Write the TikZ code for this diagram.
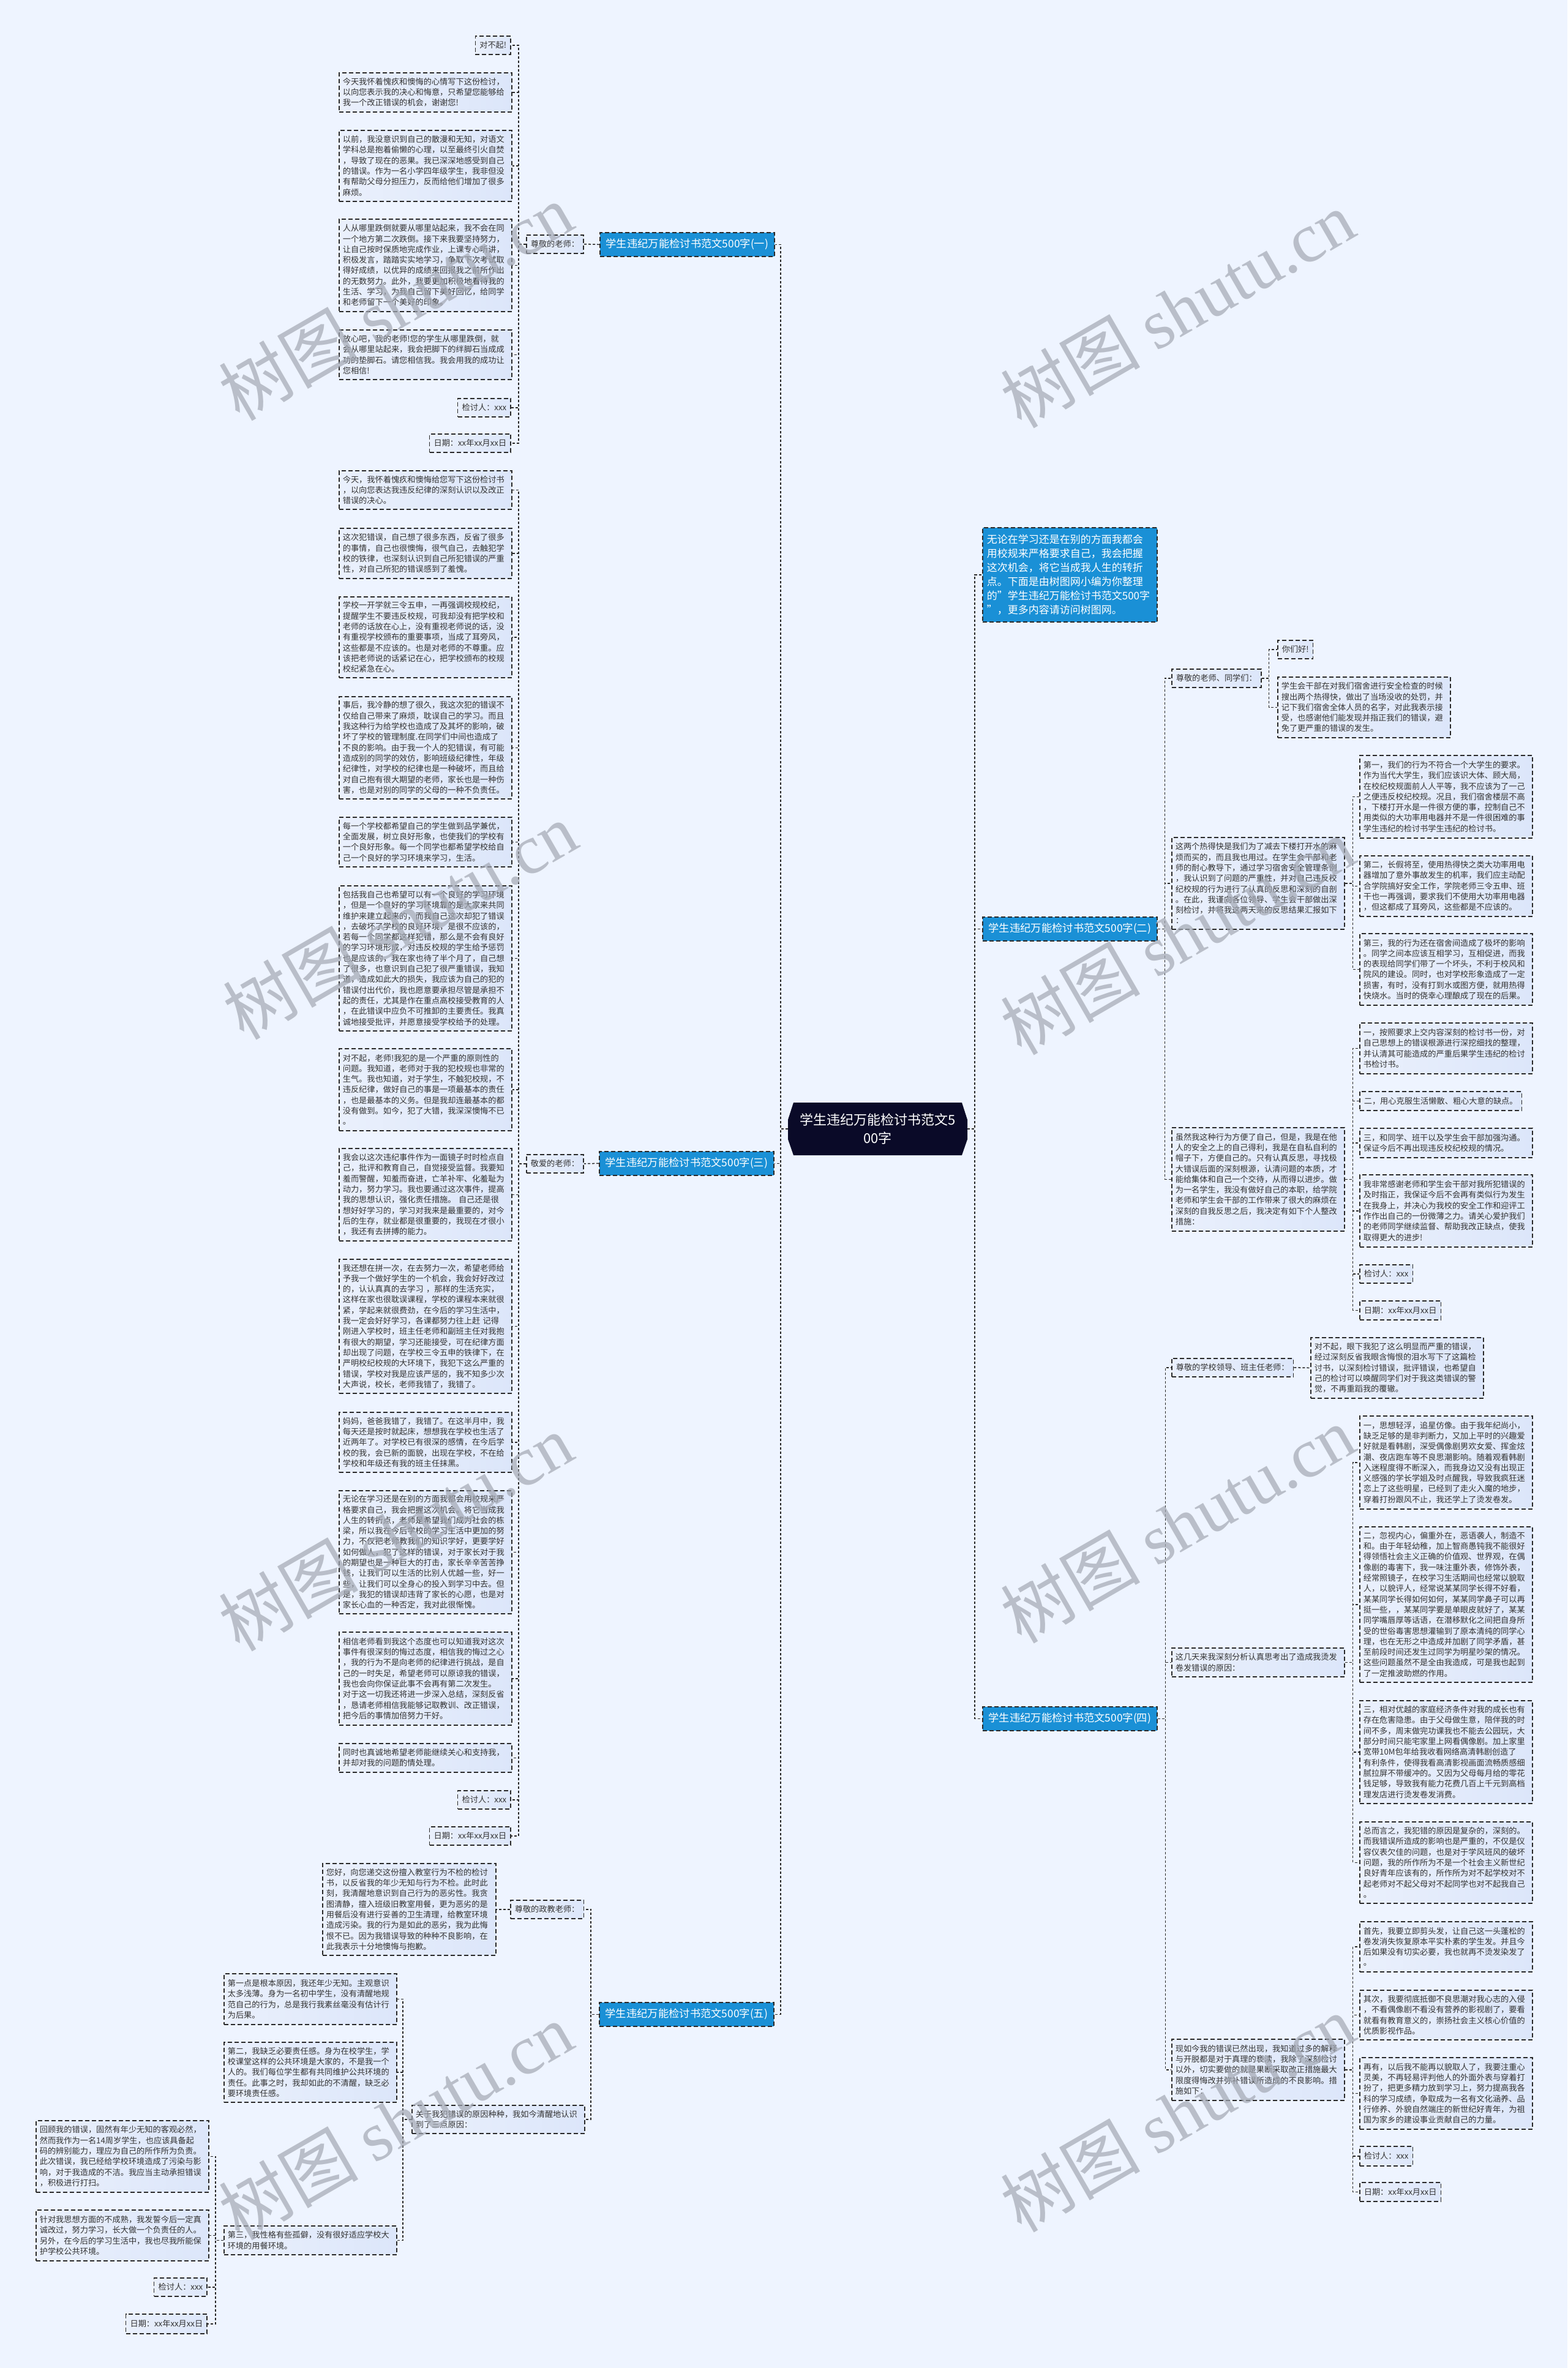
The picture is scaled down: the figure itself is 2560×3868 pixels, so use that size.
\documentclass[tikz,border=0pt]{standalone}
\usepackage{fontspec}
\setmainfont{Noto Sans CJK SC}
\newfontfamily\wmlat{Liberation Serif}
\definecolor{bg}{HTML}{EEF4FF}
\definecolor{nodeL}{HTML}{EAF0FC}
\definecolor{nodeR}{HTML}{DCE6FA}
\definecolor{bluefill}{HTML}{1A90D6}
\definecolor{navy}{HTML}{0A0A28}
\definecolor{txt}{HTML}{333333}
\definecolor{edge}{HTML}{2A2A2A}
\definecolor{wmgray}{HTML}{A3A8B3}
\begin{document}
\begin{tikzpicture}[x=1pt,y=-1pt,
  brd/.style={draw=edge, line width=1.6pt, dash pattern=on 7pt off 4pt},
  blk/.style={brd, left color=nodeL, right color=nodeR, text=txt, font=\fontsize{13.2pt}{17.3pt}\selectfont, text width=270pt, align=left, inner xsep=6pt, inner ysep=3pt, anchor=north west},
  lbl/.style={brd, left color=nodeL, right color=nodeR, text=txt, font=\fontsize{13.2pt}{17.3pt}\selectfont, inner xsep=7pt, inner ysep=3pt, minimum height=30pt},
  br/.style={brd, fill=bluefill, text=white, font=\fontsize{17.3pt}{20pt}\selectfont, minimum width=285pt, minimum height=39pt, inner xsep=4pt, anchor=north west},
  intro/.style={brd, fill=bluefill, text=white, font=\fontsize{17pt}{23.1pt}\selectfont, text width=271pt, align=left, inner xsep=7pt, minimum height=154pt, anchor=north west},
  ctr/.style={minimum width=293pt, minimum height=86pt, inner sep=0pt, align=center, text=white, font=\fontsize{22pt}{29.5pt}\selectfont,
    path picture={\fill[navy] ([xshift=9pt]path picture bounding box.north west) -- ([xshift=-9pt]path picture bounding box.north east) -- ([yshift=-28pt]path picture bounding box.north east) -- ([yshift=26pt]path picture bounding box.south east) -- ([xshift=-9pt]path picture bounding box.south east) -- ([xshift=9pt]path picture bounding box.south west) -- ([yshift=26pt]path picture bounding box.south west) -- ([yshift=-28pt]path picture bounding box.north west) -- cycle;}},
  conn/.style={draw=edge, line width=1.5pt, dash pattern=on 4pt off 3pt},
  wm/.style={text=wmgray, opacity=0.7, rotate=30, font=\fontsize{114pt}{114pt}\selectfont, inner sep=0pt}
]
\useasboundingbox (0,0) rectangle (2560,3868);
\fill[bg] (0,0) rectangle (2560,3868);

% ---------- centre ----------
\node[ctr] (ctr) at (1433.5,1844) {学生违纪万能检讨书范文5\\00字};

% ---------- branches ----------
\node[br] (b1) at (979,379) {学生违纪万能检讨书范文500字(一)};
\node[br] (b3) at (978,1880) {学生违纪万能检讨书范文500字(三)};
\node[br] (b5) at (978,3270) {学生违纪万能检讨书范文500字(五)};
\node[intro] (in) at (1604,861) {无论在学习还是在别的方面我都会\\用校规来严格要求自己，我会把握\\这次机会，将它当成我人生的转折\\点。下面是由树图网小编为你整理\\的"学生违纪万能检讨书范文500字\\"，更多内容请访问树图网。};
\node[br] (b2) at (1604,1497) {学生违纪万能检讨书范文500字(二)};
\node[br] (b4) at (1604,2787) {学生违纪万能检讨书范文500字(四)};

% ---------- group (一) ----------
\node[lbl, anchor=north west] (yl) at (859,383) {尊敬的老师：};
\node[lbl, anchor=north east] (y0) at (835,58) {对不起!};
\node[blk, minimum height=64pt] (y1) at (553,118) {今天我怀着愧疚和懊悔的心情写下这份检讨，\\以向您表示我的决心和悔意，只希望您能够给\\我一个改正错误的机会，谢谢您!};
\node[blk, minimum height=116pt] (y2) at (553,212) {以前，我没意识到自己的散漫和无知，对语文\\学科总是抱着偷懒的心理，以至最终引火自焚\\，导致了现在的恶果。我已深深地感受到自己\\的错误。作为一名小学四年级学生，我非但没\\有帮助父母分担压力，反而给他们增加了很多\\麻烦。};
\node[blk, minimum height=151pt] (y3) at (553,357) {人从哪里跌倒就要从哪里站起来，我不会在同\\一个地方第二次跌倒。接下来我要坚持努力，\\让自己按时保质地完成作业，上课专心听讲，\\积极发言，踏踏实实地学习，争取下次考试取\\得好成绩，以优异的成绩来回报我之前所作出\\的无数努力。此外，我要更加积极地看待我的\\生活、学习，为我自己留下美好回忆，给同学\\和老师留下一个美好的印象。};
\node[blk, minimum height=81pt] (y4) at (553,538) {放心吧，我的老师!您的学生从哪里跌倒，就\\会从哪里站起来，我会把脚下的绊脚石当成成\\功的垫脚石。请您相信我。我会用我的成功让\\您相信!};
\node[lbl, anchor=north east] (y5) at (835,650) {检讨人：xxx};
\node[lbl, anchor=north east] (y6) at (835,708) {日期：xx年xx月xx日};

% ---------- group (三) ----------
\node[lbl, anchor=north west] (sl) at (859,1885) {敬爱的老师：};
\node[blk, minimum height=63pt] (s1) at (553,768) {今天，我怀着愧疚和懊悔给您写下这份检讨书\\，以向您表达我违反纪律的深刻认识以及改正\\错误的决心。};
\node[blk, minimum height=82pt] (s2) at (553,862) {这次犯错误，自己想了很多东西，反省了很多\\的事情，自己也很懊悔，很气自己，去触犯学\\校的铁律，也深刻认识到自己所犯错误的严重\\性，对自己所犯的错误感到了羞愧。};
\node[blk, minimum height=132pt] (s3) at (553,974) {学校一开学就三令五申，一再强调校规校纪，\\提醒学生不要违反校规，可我却没有把学校和\\老师的话放在心上，没有重视老师说的话，没\\有重视学校颁布的重要事项，当成了耳旁风，\\这些都是不应该的。也是对老师的不尊重。应\\该把老师说的话紧记在心，把学校颁布的校规\\校纪紧急在心。};
\node[blk, minimum height=167pt] (s4) at (553,1137) {事后，我冷静的想了很久，我这次犯的错误不\\仅给自己带来了麻烦，耽误自己的学习。而且\\我这种行为给学校也造成了及其坏的影响，破\\坏了学校的管理制度.在同学们中间也造成了\\不良的影响。由于我一个人的犯错误，有可能\\造成别的同学的效仿，影响班级纪律性，年级\\纪律性，对学校的纪律也是一种破坏，而且给\\对自己抱有很大期望的老师，家长也是一种伤\\害，也是对别的同学的父母的一种不负责任。};
\node[blk, minimum height=81pt] (s5) at (553,1334) {每一个学校都希望自己的学生做到品学兼优，\\全面发展，树立良好形象，也使我们的学校有\\一个良好形象。每一个同学也都希望学校给自\\己一个良好的学习环境来学习，生活。};
\node[blk, minimum height=237pt] (s6) at (553,1446) {包括我自己也希望可以有一个良好的学习环境\\，但是一个良好的学习环境靠的是大家来共同\\维护来建立起来的，而我自己这次却犯了错误\\，去破坏了学校的良好环境，是很不应该的，\\若每一个同学都这样犯错，那么是不会有良好\\的学习环境形成，对违反校规的学生给予惩罚\\也是应该的，我在家也待了半个月了，自己想\\了很多，也意识到自己犯了很严重错误，我知\\道，造成如此大的损失，我应该为自己的犯的\\错误付出代价，我也愿意要承担尽管是承担不\\起的责任，尤其是作在重点高校接受教育的人\\，在此错误中应负不可推卸的主要责任。我真\\诚地接受批评，并愿意接受学校给予的处理。};
\node[blk, minimum height=134pt] (s7) at (553,1712) {对不起，老师!我犯的是一个严重的原则性的\\问题。我知道，老师对于我的犯校规也非常的\\生气。我也知道，对于学生，不触犯校规，不\\违反纪律，做好自己的事是一项最基本的责任\\，也是最基本的义务。但是我却连最基本的都\\没有做到。如今，犯了大错，我深深懊悔不已\\。};
\node[blk, minimum height=151pt] (s8) at (553,1875) {我会以这次违纪事件作为一面镜子时时检点自\\己，批评和教育自己，自觉接受监督。我要知\\羞而警醒，知羞而奋进，亡羊补牢、化羞耻为\\动力，努力学习。我也要通过这次事件，提高\\我的思想认识，强化责任措施。 自己还是很\\想好好学习的，学习对我来是最重要的，对今\\后的生存，就业都是很重要的，我现在才很小\\，我还有去拼搏的能力。};
\node[blk, minimum height=219pt] (s9) at (553,2056) {我还想在拼一次，在去努力一次，希望老师给\\予我一个做好学生的一个机会，我会好好改过\\的，认认真真的去学习 ，那样的生活充实，\\这样在家也很耽误课程，学校的课程本来就很\\紧，学起来就很费劲，在今后的学习生活中，\\我一定会好好学习，各课都努力往上赶 记得\\刚进入学校时，班主任老师和副班主任对我抱\\有很大的期望，学习还能接受，可在纪律方面\\却出现了问题，在学校三令五申的铁律下，在\\严明校纪校规的大环境下，我犯下这么严重的\\错误，学校对我是应该严惩的，我不知多少次\\大声说，校长，老师我错了，我错了。};
\node[blk, minimum height=98pt] (s10) at (553,2306) {妈妈，爸爸我错了，我错了。在这半月中，我\\每天还是按时就起床，想想我在学校也生活了\\近两年了。对学校已有很深的感情，在今后学\\校的我，会已新的面貌，出现在学校，不在给\\学校和年级还有我的班主任抹黑。};
\node[blk, minimum height=201pt] (s11) at (553,2434) {无论在学习还是在别的方面我都会用校规来严\\格要求自己，我会把握这次机会。将它当成我\\人生的转折点，老师是希望我们成为社会的栋\\梁，所以我在今后学校的学习生活中更加的努\\力，不仅把老师教我们的知识学好，更要学好\\如何做人，犯了这样的错误，对于家长对于我\\的期望也是一种巨大的打击，家长辛辛苦苦挣\\钱，让我们可以生活的比别人优越一些，好一\\些，让我们可以全身心的投入到学习中去。但\\是，我犯的错误却违背了家长的心愿，也是对\\家长心血的一种否定，我对此很惭愧。};
\node[blk, minimum height=152pt] (s12) at (553,2665) {相信老师看到我这个态度也可以知道我对这次\\事件有很深刻的悔过态度，相信我的悔过之心\\，我的行为不是向老师的纪律进行挑战，是自\\己的一时失足，希望老师可以原谅我的错误，\\我也会向你保证此事不会再有第二次发生。\\对于这一切我还将进一步深入总结，深刻反省\\，恳请老师相信我能够记取教训、改正错误，\\把今后的事情加倍努力干好。};
\node[blk, minimum height=47pt] (s13) at (553,2847) {同时也真诚地希望老师能继续关心和支持我，\\并却对我的问题酌情处理。};
\node[lbl, anchor=north east] (s14) at (835,2924) {检讨人：xxx};
\node[lbl, anchor=north east] (s15) at (835,2983) {日期：xx年xx月xx日};

% ---------- group (五) ----------
\node[lbl, anchor=north west] (pl1) at (833,3103) {尊敬的政教老师：};
\node[blk, minimum height=150pt, text width=271pt] (pe1) at (526,3043) {您好，向您递交这份擅入教室行为不检的检讨\\书，以反省我的年少无知与行为不检。此时此\\刻，我清醒地意识到自己行为的恶劣性。我贪\\图清静，擅入班级旧教室用餐，更为恶劣的是\\用餐后没有进行妥善的卫生清理，给教室环境\\造成污染。我的行为是如此的恶劣，我为此悔\\恨不已。因为我错误导致的种种不良影响，在\\此我表示十分地懊悔与抱歉。};
\node[blk, minimum height=46pt] (pl2) at (672,3438) {关于我犯错误的原因种种，我如今清醒地认识\\到了三点原因：};
\node[blk, minimum height=83pt] (pe2) at (365,3223) {第一点是根本原因，我还年少无知。主观意识\\太多浅薄。身为一名初中学生，没有清醒地规\\范自己的行为，总是我行我素丝毫没有估计行\\为后果。};
\node[blk, minimum height=98pt] (pe3) at (365,3335) {第二，我缺乏必要责任感。身为在校学生，学\\校课堂这样的公共环境是大家的，不是我一个\\人的。我们每位学生都有共同维护公共环境的\\责任。此事之时，我却如此的不清醒，缺乏必\\要环境责任感。};
\node[blk, minimum height=47pt] (pe4) at (365,3635) {第三，我性格有些孤僻，没有很好适应学校大\\环境的用餐环境。};
\node[blk, minimum height=117pt] (pe5) at (58,3463) {回顾我的错误，固然有年少无知的客观必然，\\然而我作为一名14周岁学生，也应该具备起\\码的辨别能力，理应为自己的所作所为负责。\\此次错误，我已经给学校环境造成了污染与影\\响，对于我造成的不洁。我应当主动承担错误\\，积极进行打扫。};
\node[blk, minimum height=83pt] (pe6) at (58,3609) {针对我思想方面的不成熟，我发誓今后一定真\\诚改过，努力学习，长大做一个负责任的人。\\另外，在今后的学习生活中，我也尽我所能保\\护学校公共环境。};
\node[lbl, anchor=north east] (pe7) at (339,3720) {检讨人：xxx};
\node[lbl, anchor=north east, minimum height=32pt] (pe8) at (339,3779) {日期：xx年xx月xx日};

% ---------- group (二) ----------
\node[lbl, anchor=north west] (q1) at (1913,1092) {尊敬的老师、同学们：};
\node[lbl, anchor=north west] (q1a) at (2086,1045) {你们好!};
\node[blk, minimum height=99pt] (q1b) at (2086,1105) {学生会干部在对我们宿舍进行安全检查的时候\\搜出两个热得快，做出了当场没收的处罚，并\\记下我们宿舍全体人员的名字，对此我表示接\\受，也感谢他们能发现并指正我们的错误，避\\免了更严重的错误的发生。};
\node[blk, minimum height=150pt] (q2) at (1913,1367) {这两个热得快是我们为了减去下楼打开水的麻\\烦而买的，而且我也用过。在学生会干部和老\\师的耐心教导下，通过学习宿舍安全管理条例\\，我认识到了问题的严重性，并对自己违反校\\纪校规的行为进行了认真的反思和深刻的自剖\\。在此，我谨向各位领导、学生会干部做出深\\刻检讨，并将我这两天来的反思结果汇报如下\\：};
\node[blk, minimum height=135pt] (q2a) at (2220,1233) {第一，我们的行为不符合一个大学生的要求。\\作为当代大学生，我们应该识大体、顾大局，\\在校纪校规面前人人平等，我不应该为了一己\\之便违反校纪校规。况且，我们宿舍楼层不高\\，下楼打开水是一件很方便的事，控制自己不\\用类似的大功率用电器并不是一件很困难的事\\学生违纪的检讨书学生违纪的检讨书。};
\node[blk, minimum height=99pt] (q2b) at (2220,1397) {第二，长假将至，使用热得快之类大功率用电\\器增加了意外事故发生的机率，我们应主动配\\合学院搞好安全工作，学院老师三令五申、班\\干也一再强调，要求我们不使用大功率用电器\\，但这都成了耳旁风，这些都是不应该的。};
\node[blk, minimum height=117pt] (q2c) at (2220,1524) {第三，我的行为还在宿舍间造成了极坏的影响\\。同学之间本应该互相学习，互相促进，而我\\的表现给同学们带了一个坏头，不利于校风和\\院风的建设。同时，也对学校形象造成了一定\\损害，有时，没有打到水或图方便，就用热得\\快烧水。当时的侥幸心理酿成了现在的后果。};
\node[blk, minimum height=169pt] (q3) at (1913,1841) {虽然我这种行为方便了自己，但是，我是在他\\人的安全之上的自己得利，我是在自私自利的\\帽子下，方便自己的。只有认真反思，寻找极\\大错误后面的深刻根源，认清问题的本质，才\\能给集体和自己一个交待，从而得以进步。做\\为一名学生，我没有做好自己的本职，给学院\\老师和学生会干部的工作带来了很大的麻烦在\\深刻的自我反思之后，我决定有如下个人整改\\措施：};
\node[blk, minimum height=83pt] (q3a) at (2220,1670) {一，按照要求上交内容深刻的检讨书一份，对\\自己思想上的错误根源进行深挖细找的整理，\\并认清其可能造成的严重后果学生违纪的检讨\\书检讨书。};
\node[lbl, anchor=north west, minimum height=31pt] (q3b) at (2220,1782) {二，用心克服生活懒散、粗心大意的缺点。};
\node[blk, minimum height=48pt] (q3c) at (2220,1842) {三，和同学、班干以及学生会干部加强沟通。\\保证今后不再出现违反校纪校规的情况。};
\node[blk, minimum height=118pt] (q3d) at (2220,1918) {我非常感谢老师和学生会干部对我所犯错误的\\及时指正，我保证今后不会再有类似行为发生\\在我身上，并决心为我校的安全工作和迎评工\\作作出自己的一份微薄之力。请关心爱护我们\\的老师同学继续监督、帮助我改正缺点，使我\\取得更大的进步!};
\node[lbl, anchor=north west] (q3e) at (2220,2065) {检讨人：xxx};
\node[lbl, anchor=north west, minimum height=31pt] (q3f) at (2220,2124) {日期：xx年xx月xx日};

% ---------- group (四) ----------
\node[lbl, anchor=north west] (w1) at (1913,2218) {尊敬的学校领导、班主任老师：};
\node[blk, minimum height=99pt] (w1a) at (2140,2184) {对不起，眼下我犯了这么明显而严重的错误，\\经过深刻反省我眼含悔恨的泪水写下了这篇检\\讨书，以深刻检讨错误，批评错误，也希望自\\己的检讨可以唤醒同学们对于我这类错误的警\\觉，不再重蹈我的覆辙。};
\node[blk, minimum height=47pt] (w2) at (1913,2691) {这几天来我深刻分析认真思考出了造成我烫发\\卷发错误的原因：};
\node[blk, minimum height=152pt] (w2a) at (2220,2312) {一，思想轻浮，追星仿像。由于我年纪尚小，\\缺乏足够的是非判断力，又加上平时的兴趣爱\\好就是看韩剧，深受偶像剧男欢女爱、挥金炫\\潮、夜店跑车等不良思潮影响。随着观看韩剧\\入迷程度得不断深入，而我身边又没有出现正\\义感强的学长学姐及时点醒我，导致我疯狂迷\\恋上了这些明星，已经到了走火入魔的地步，\\穿着打扮跟风不止，我还学上了烫发卷发。};
\node[blk, minimum height=254pt] (w2b) at (2220,2493) {二，忽视内心，偏重外在，恶语袭人，制造不\\和。由于年轻幼稚，加上智商愚钝我不能很好\\得领悟社会主义正确的价值观、世界观，在偶\\像剧的毒害下，我一味注重外表，修饰外表，\\经常照镜子，在校学习生活期间也经常以貌取\\人，以貌评人，经常说某某同学长得不好看，\\某某同学长得如何如何，某某同学鼻子可以再\\挺一些，，某某同学要是单眼皮就好了，某某\\同学嘴唇厚等话语，在潜移默化之间把自身所\\受的世俗毒害思想灌输到了原本清纯的同学心\\理，也在无形之中造成并加剧了同学矛盾，甚\\至前段时间还发生过同学为明星吵架的情况。\\这些问题虽然不是全由我造成，可是我也起到\\了一定推波助燃的作用。};
\node[blk, minimum height=168pt] (w2c) at (2220,2777) {三，相对优越的家庭经济条件对我的成长也有\\存在危害隐患。由于父母做生意，陪伴我的时\\间不多，周末做完功课我也不能去公园玩，大\\部分时间只能宅家里上网看偶像剧。加上家里\\宽带10M包年给我收看网络高清韩剧创造了\\有利条件，使得我看高清影视画面流畅质感细\\腻拉屏不带缓冲的。又因为父母每月给的零花\\钱足够，导致我有能力花费几百上千元到高档\\理发店进行烫发卷发消费。};
\node[blk, minimum height=133pt] (w2d) at (2220,2975) {总而言之，我犯错的原因是复杂的，深刻的。\\而我错误所造成的影响也是严重的，不仅是仪\\容仪表欠佳的问题，也是对于学风班风的破坏\\问题，我的所作所为不是一个社会主义新世纪\\良好青年应该有的，所作所为对不起学校对不\\起老师对不起父母对不起同学也对不起我自己\\。};
\node[blk, minimum height=100pt] (w3) at (1913,3330) {现如今我的错误已然出现，我知道过多的解释\\与开脱都是对于真理的亵渎，我除了深刻检讨\\以外，切实要做的就是果断采取改正措施最大\\限度得悔改并弥补错误所造成的不良影响。措\\施如下：};
\node[blk, minimum height=82pt] (w3a) at (2220,3138) {首先，我要立即剪头发，让自己这一头蓬松的\\卷发消失恢复原本平实朴素的学生发。并且今\\后如果没有切实必要，我也就再不烫发染发了\\。};
\node[blk, minimum height=81pt] (w3b) at (2220,3250) {其次，我要彻底抵御不良思潮对我心志的入侵\\，不看偶像剧不看没有营养的影视剧了，要看\\就看有教育意义的，崇扬社会主义核心价值的\\优质影视作品。};
\node[blk, minimum height=117pt] (w3c) at (2220,3360) {再有，以后我不能再以貌取人了，我要注重心\\灵美，不再轻易评判他人的外面外表与穿着打\\扮了，把更多精力放到学习上，努力提高我各\\科的学习成绩，争取成为一名有文化涵养、品\\行修养、外貌自然端庄的新世纪好青年，为祖\\国为家乡的建设事业贡献自己的力量。};
\node[lbl, anchor=north west, minimum height=32pt] (w3d) at (2220,3505) {检讨人：xxx};
\node[lbl, anchor=north west, minimum height=31pt] (w3e) at (2220,3564) {日期：xx年xx月xx日};

% ---------- connectors ----------
\foreach \n in {b1,b3,b5} \draw[conn] (ctr.west) -- ++(-12,0) |- (\n.east);
\foreach \n in {in,b2,b4} \draw[conn] (ctr.east) -- ++(12,0) |- (\n.west);
\draw[conn] (b1.west) -- (yl.east);
\foreach \n in {y0,y1,y2,y3,y4,y5,y6} \draw[conn] (yl.west) -- ++(-12,0) |- (\n.east);
\draw[conn] (b3.west) -- (sl.east);
\foreach \n in {s1,s2,s3,s4,s5,s6,s7,s8,s9,s10,s11,s12,s13,s14,s15} \draw[conn] (sl.west) -- ++(-12,0) |- (\n.east);
\foreach \n in {pl1,pl2} \draw[conn] (b5.west) -- ++(-13,0) |- (\n.east);
\draw[conn] (pl1.west) -- (pe1.east);
\foreach \n in {pe2,pe3,pe4} \draw[conn] (pl2.west) -- ++(-14,0) |- (\n.east);
\foreach \n in {pe5,pe6,pe7,pe8} \draw[conn] (pe4.west) -- ++(-13,0) |- (\n.east);
\foreach \n in {q1,q2,q3} \draw[conn] (b2.east) -- ++(12,0) |- (\n.west);
\foreach \n in {q1a,q1b} \draw[conn] (q1.east) -- ++(12,0) |- (\n.west);
\foreach \n in {q2a,q2b,q2c} \draw[conn] (q2.east) -- ++(13,0) |- (\n.west);
\foreach \n in {q3a,q3b,q3c,q3d,q3e,q3f} \draw[conn] (q3.east) -- ++(13,0) |- (\n.west);
\foreach \n in {w1,w2,w3} \draw[conn] (b4.east) -- ++(13,0) |- (\n.west);
\draw[conn] (w1.east) -- (w1a.west);
\foreach \n in {w2a,w2b,w2c,w2d} \draw[conn] (w2.east) -- ++(13,0) |- (\n.west);
\foreach \n in {w3a,w3b,w3c,w3d,w3e} \draw[conn] (w3.east) -- ++(13,0) |- (\n.west);

% ---------- watermarks ----------
\node[wm] (wm1) at (646,493) {树图 {\wmlat shutu.cn}};
\node[wm] (wm2) at (1923,505) {树图 {\wmlat shutu.cn}};
\node[wm] (wm3) at (653,1504) {树图 {\wmlat shutu.cn}};
\node[wm] (wm4) at (1923,1529) {树图 {\wmlat shutu.cn}};
\node[wm] (wm5) at (646,2503) {树图 {\wmlat shutu.cn}};
\node[wm] (wm6) at (1923,2490) {树图 {\wmlat shutu.cn}};
\node[wm] (wm7) at (646,3465) {树图 {\wmlat shutu.cn}};
\node[wm] (wm8) at (1923,3452) {树图 {\wmlat shutu.cn}};
\end{tikzpicture}
\end{document}
